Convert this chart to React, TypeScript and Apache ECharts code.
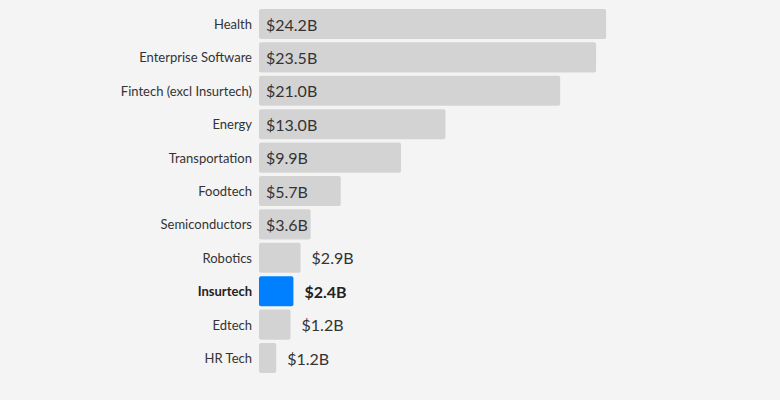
import React, { useEffect, useRef } from "react";
import * as echarts from "echarts";

const categories = [
  "Health",
  "Enterprise Software",
  "Fintech (excl Insurtech)",
  "Energy",
  "Transportation",
  "Foodtech",
  "Semiconductors",
  "Robotics",
  "Insurtech",
  "Edtech",
  "HR Tech",
];
const barValues = [24.2, 23.5, 21.0, 13.0, 9.9, 5.7, 3.6, 2.9, 2.4, 2.2, 1.2];
const valueLabels = ["$24.2B", "$23.5B", "$21.0B", "$13.0B", "$9.9B", "$5.7B", "$3.6B", "$2.9B", "$2.4B", "$1.2B", "$1.2B"];
const highlight = "Insurtech";

const FONT = "Lato, 'Noto Sans', sans-serif";

export default function App() {
  const ref = useRef<HTMLDivElement>(null);
  useEffect(() => {
    document.body.style.margin = "0";
    document.body.style.background = "#f4f4f4";
    if (!ref.current) return;
    const chart = echarts.init(ref.current, undefined, { renderer: "svg" });
    const data = barValues.map((v, i) => {
      const isHi = categories[i] === highlight;
      const inside = v >= 3.5;
      return {
        value: v,
        itemStyle: { color: isHi ? "#0080ff" : "#d3d3d3" },
        label: {
          show: true,
          position: inside ? "insideLeft" : "right",
          distance: inside ? 7 : 11,
          formatter: valueLabels[i],
          fontFamily: FONT,
          fontSize: 16,
          fontWeight: isHi ? "bold" : "normal",
          color: isHi ? "#222" : "#333",
        },
      };
    });
    chart.setOption({
      animation: false,
      backgroundColor: "#f4f4f4",
      grid: { left: 259, top: 7.3, width: 502, height: 367.4, containLabel: false },
      xAxis: {
        type: "value",
        min: 0,
        max: 35,
        show: false,
      },
      yAxis: {
        type: "category",
        data: categories,
        inverse: true,
        axisLine: { show: false },
        axisTick: { show: false },
        splitLine: { show: false },
        axisLabel: {
          margin: 7,
          fontFamily: FONT,
          fontSize: 13,
          color: "#333",
          formatter: (v: string) => (v === highlight ? "{b|" + v + "}" : v),
          rich: { b: { fontWeight: "bold", fontFamily: FONT, fontSize: 13, color: "#222" } },
        },
      },
      series: [
        {
          type: "bar",
          data,
          barCategoryGap: "10%",
          itemStyle: { borderRadius: 2 },
        },
      ],
    });
    return () => chart.dispose();
  }, []);
  return <div ref={ref} style={{ width: 780, height: 400 }} />;
}
